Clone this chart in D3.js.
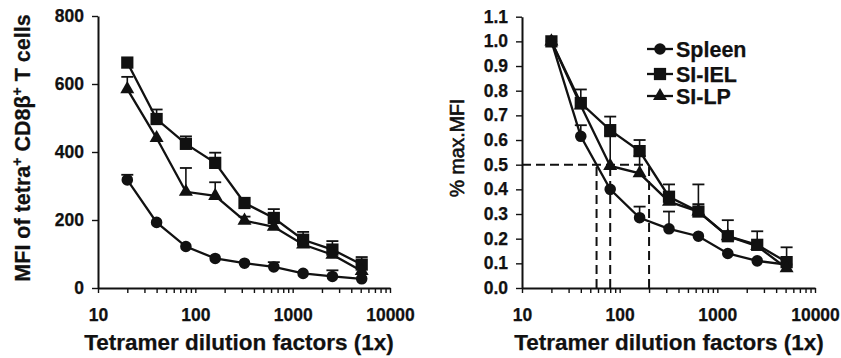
<!DOCTYPE html>
<html>
<head>
<meta charset="utf-8">
<script src="https://cdn.jsdelivr.net/npm/d3@7"></script>
<style>
  body { margin: 0; background: #fff; }
  text { font-family: "Liberation Sans", Arial, sans-serif; font-weight: bold; fill: #111; stroke: #111; stroke-width: 0.25px; }
</style>
</head>
<body>
<div id="chart"></div>
<script>
// dilution factors on the x axis (both panels)
const dilutions = [20, 40, 80, 160, 320, 640, 1280, 2560, 5120];

// left panel: MFI values, upper error bars
const mfiSpleen = [318, 193, 122, 87, 73, 62, 43, 34, 27];
const mfiSpleenErr = [15, 0, 0, 0, 0, 14, 0, 18, 0];
const mfiIEL = [663, 497, 424, 368, 250, 206, 142, 113, 69];
const mfiIELErr = [0, 28, 22, 30, 0, 26, 23, 25, 22];
const mfiLP = [585, 441, 283, 271, 198, 180, 128, 98, 50];
const mfiLPErr = [36, 0, 70, 40, 12, 0, 0, 0, 0];

// right panel: fraction of max MFI
const relSpleen = [1.0, 0.615, 0.40, 0.285, 0.24, 0.21, 0.14, 0.11, 0.095];
const relSpleenErr = [0, 0.045, 0, 0.045, 0.07, 0, 0, 0, 0];
const relIEL = [1.0, 0.75, 0.64, 0.555, 0.37, 0.31, 0.21, 0.175, 0.105];
const relIELErr = [0, 0.055, 0.055, 0.045, 0.05, 0.03, 0.065, 0.055, 0.06];
const relLP = [1.0, 0.74, 0.495, 0.465, 0.35, 0.31, 0.21, 0.17, 0.08];
const relLPErr = [0, 0, 0.12, 0.07, 0, 0.11, 0, 0, 0];

// half-max guide lines
const halfMaxLevel = 0.5;
const halfMaxDilutions = [58, 80, 200];

// ticks
const leftYTicks = [0, 200, 400, 600, 800];
const rightYTicks = [0, 0.1, 0.2, 0.3, 0.4, 0.5, 0.6, 0.7, 0.8, 0.9, 1.0, 1.1];
const xMajorTicks = [10, 100, 1000, 10000];

const seriesNames = ["Spleen", "SI-IEL", "SI-LP"];
const seriesSymbols = [d3.symbolCircle, d3.symbolSquare, d3.symbolTriangle];
const symbolSizes = [105, 150, 85];

const W = 841, H = 358;
const svg = d3.select("#chart").append("svg")
    .attr("width", W).attr("height", H);

// all minor ticks for a log axis 10..10000
const xMinorTicks = [];
for (let p = 10; p < 10000; p *= 10) {
    for (let k = 1; k < 10; k++) xMinorTicks.push(p * k);
}
xMinorTicks.push(10000);

function styleTickText(sel) {
    sel.style("font-size", "17.5px")
        .style("font-family", "'Liberation Sans', Arial, sans-serif")
        .style("font-weight", "bold")
        .attr("fill", "#111");
}

function drawPanel(opts) {
    const g = svg.append("g");
    const x = d3.scaleLog().domain([10, 10000]).range(opts.xRange);
    const y = d3.scaleLinear().domain(opts.yDomain).range(opts.yRange);

    // x axis
    const xAxis = g.append("g")
        .attr("transform", `translate(0,${opts.yRange[0]})`)
        .call(d3.axisBottom(x)
            .tickValues(xMinorTicks)
            .tickSize(5)
            .tickSizeOuter(0)
            .tickFormat(d => xMajorTicks.includes(d) ? d3.format("d")(d) : ""));
    xAxis.select(".domain").attr("stroke", "#111").attr("stroke-width", 2);
    xAxis.selectAll(".tick line").attr("stroke", "#111").attr("stroke-width", 1.4);
    xAxis.selectAll(".tick text").attr("dy", "1.4em").call(styleTickText);

    // y axis
    const yAxis = g.append("g")
        .attr("transform", `translate(${opts.xRange[0]},0)`)
        .call(d3.axisLeft(y)
            .tickValues(opts.yTicks)
            .tickSize(6)
            .tickSizeOuter(0)
            .tickFormat(opts.yFormat));
    yAxis.select(".domain").attr("stroke", "#111").attr("stroke-width", 2);
    yAxis.selectAll(".tick line").attr("stroke", "#111").attr("stroke-width", 1.4);
    yAxis.selectAll(".tick text").attr("x", -opts.yLabelGap).call(styleTickText);

    // x axis title
    g.append("text")
        .attr("x", opts.titleX)
        .attr("y", 350)
        .attr("text-anchor", "middle")
        .style("font-size", "22.5px")
        .text("Tetramer dilution factors (1x)");

    // guides (right panel only)
    if (opts.guides) {
        const dash = "9,5";
        g.append("line")
            .attr("x1", x(10)).attr("x2", x(d3.max(halfMaxDilutions)))
            .attr("y1", y(halfMaxLevel)).attr("y2", y(halfMaxLevel))
            .attr("stroke", "#111").attr("stroke-width", 2)
            .attr("stroke-dasharray", dash);
        g.selectAll("line.vguide")
            .data(halfMaxDilutions)
            .join("line")
            .attr("class", "vguide")
            .attr("x1", d => x(d)).attr("x2", d => x(d))
            .attr("y1", y(0)).attr("y2", y(halfMaxLevel))
            .attr("stroke", "#111").attr("stroke-width", 2)
            .attr("stroke-dasharray", dash);
    }

    const line = d3.line()
        .x(d => x(d.dil))
        .y(d => y(d.v));

    opts.series.forEach((s, i) => {
        const pts = dilutions.map((dil, j) => ({ dil: dil, v: s.values[j], e: s.err[j] }));

        g.append("path")
            .datum(pts)
            .attr("fill", "none")
            .attr("stroke", "#111")
            .attr("stroke-width", 2.3)
            .attr("d", line);

        // error bars (upper only)
        const eb = g.selectAll(null)
            .data(pts.filter(d => d.e > 0))
            .join("g");
        eb.append("line")
            .attr("x1", d => x(d.dil)).attr("x2", d => x(d.dil))
            .attr("y1", d => y(d.v)).attr("y2", d => y(d.v + d.e))
            .attr("stroke", "#111").attr("stroke-width", 1.6);
        eb.append("line")
            .attr("x1", d => x(d.dil) - 6).attr("x2", d => x(d.dil) + 6)
            .attr("y1", d => y(d.v + d.e)).attr("y2", d => y(d.v + d.e))
            .attr("stroke", "#111").attr("stroke-width", 1.8);

        g.selectAll(null)
            .data(pts)
            .join("path")
            .attr("transform", d => `translate(${x(d.dil)},${y(d.v)})`)
            .attr("d", d3.symbol().type(seriesSymbols[i]).size(symbolSizes[i]))
            .attr("fill", "#111");
    });
    return g;
}

// left panel
drawPanel({
    xRange: [98, 390],
    yDomain: [0, 800],
    yRange: [288, 16],
    yTicks: leftYTicks,
    yFormat: d3.format("d"),
    yLabelGap: 14,
    titleX: 239,
    series: [
        { values: mfiSpleen, err: mfiSpleenErr },
        { values: mfiIEL, err: mfiIELErr },
        { values: mfiLP, err: mfiLPErr }
    ]
});

// left y title with superscripts
const lt = svg.append("text")
    .attr("transform", "translate(30,148) rotate(-90)")
    .attr("text-anchor", "middle")
    .style("font-size", "21.5px");
lt.append("tspan").text("MFI of tetra");
lt.append("tspan").attr("dy", -8).style("font-size", "14px").text("+");
lt.append("tspan").attr("dy", 8).text(" CD8β");
lt.append("tspan").attr("dy", -8).style("font-size", "14px").text("+");
lt.append("tspan").attr("dy", 8).text(" T cells");

// right panel
drawPanel({
    xRange: [522, 815],
    yDomain: [0, 1.1],
    yRange: [288, 16.7],
    yTicks: rightYTicks,
    yFormat: d3.format(".1f"),
    yLabelGap: 14,
    titleX: 669,
    guides: true,
    series: [
        { values: relSpleen, err: relSpleenErr },
        { values: relIEL, err: relIELErr },
        { values: relLP, err: relLPErr }
    ]
});

svg.append("text")
    .attr("transform", "translate(464,148) rotate(-90)")
    .attr("text-anchor", "middle")
    .style("font-size", "19.5px")
    .style("font-weight", "normal")
    .style("stroke-width", 0.6)
    .text("% max.MFI");

// legend
const legend = svg.append("g").attr("transform", "translate(647,49)");
seriesNames.forEach((name, i) => {
    const row = legend.append("g").attr("transform", `translate(0,${[0, 25, 47][i]})`);
    row.append("line")
        .attr("x1", 0).attr("x2", 26)
        .attr("stroke", "#111").attr("stroke-width", 2.3);
    row.append("path")
        .attr("transform", "translate(13,0)")
        .attr("d", d3.symbol().type(seriesSymbols[i]).size(symbolSizes[i]))
        .attr("fill", "#111");
    row.append("text")
        .attr("x", 29).attr("y", 0).attr("dy", "0.36em")
        .style("font-size", "21.5px")
        .text(name);
});
</script>
</body>
</html>
